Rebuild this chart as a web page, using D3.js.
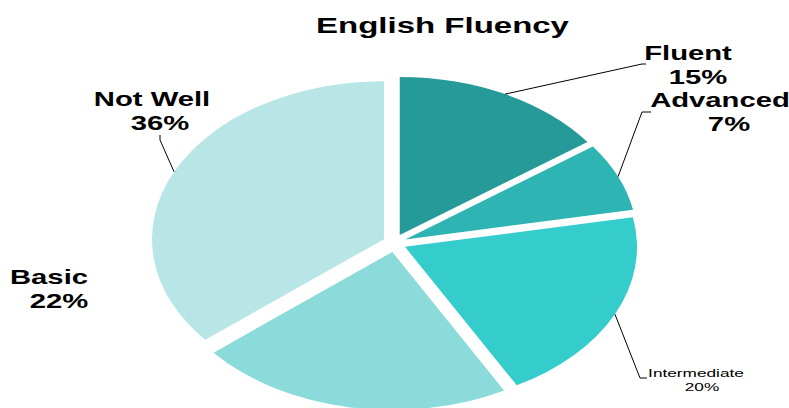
<!DOCTYPE html>
<html>
<head>
<meta charset="utf-8">
<script src="https://cdn.jsdelivr.net/npm/d3@7"></script>
<style>
  html, body { margin: 0; padding: 0; background: #fff; }
  svg { display: block; font-family: "Liberation Sans", Arial, sans-serif; }
</style>
</head>
<body>
<svg id="chart" width="789" height="408"></svg>
<script>
// Survey shares, clockwise from 12 o'clock
const categories = ["Fluent", "Advanced", "Intermediate", "Basic", "Not Well"];
const shares = [15, 7, 20, 22, 36];
const sliceColors = ["#269a99", "#2eb4b3", "#35cccc", "#8adbd9", "#b8e5e5"];

// Label placement (baseline of the name line, percent line, leader path end points)
const labelLayout = [
  { x: 688, y: 60,  dx: 10, size: 19.5, weight: "bold",   leader: [[642, 64], [646, 64]] },
  { x: 720, y: 107, dx: 9,  size: 19.5, weight: "bold",   leader: [[642, 112], [651, 112]] },
  { x: 696, y: 377, dx: 6,  size: 11.5, weight: "normal", leader: [[640, 378], [647, 378]], gap: 14 },
  { x: 49,  y: 284, dx: 10, size: 19.5, weight: "bold",   leader: null },
  { x: 152, y: 106, dx: 8,  size: 19.5, weight: "bold",   leader: [[160, 140], [160, 135]] }
];

const W = 789, H = 408;
const cx = 394.5, cy = 243;      // pie centre
const rx = 232, ry = 158;         // ellipse radii
const explodeX = 11.6, explodeY = 9.1;
const stretch = 1.5;              // horizontal text stretch

const svg = d3.select("#chart");

const pie = d3.pie().sort(null).value(d => d);
const arcs = pie(shares);
const arc = d3.arc().innerRadius(0).outerRadius(rx);
const ky = ry / rx;

const mid = d => (d.startAngle + d.endAngle) / 2;
const sliceOrigin = d => [cx + explodeX * Math.sin(mid(d)), cy - explodeY * Math.cos(mid(d))];

svg.append("g").selectAll("path")
  .data(arcs)
  .join("path")
  .attr("transform", d => {
    const [ox, oy] = sliceOrigin(d);
    return `translate(${ox},${oy}) scale(1,${ky})`;
  })
  .attr("d", arc)
  .attr("fill", (d, i) => sliceColors[i]);

// Leader lines from the slice rim at its mid-angle
const line = d3.line();
svg.append("g").selectAll("path")
  .data(arcs.filter((d, i) => labelLayout[i].leader))
  .join("path")
  .attr("d", d => {
    const [ox, oy] = sliceOrigin(d);
    const a = mid(d);
    const start = [ox + rx * Math.sin(a), oy - ry * Math.cos(a)];
    return line([start, ...labelLayout[d.index].leader]);
  })
  .attr("fill", "none")
  .attr("stroke", "#000")
  .attr("stroke-width", 1);

// Stretched text helper
function stretchedText(parent, x, y, str, size, weight) {
  parent.append("text")
    .attr("transform", `translate(${x},${y}) scale(${stretch},1)`)
    .attr("text-anchor", "middle")
    .attr("font-size", size)
    .attr("font-weight", weight)
    .attr("fill", "#000")
    .text(str);
}

const labels = svg.append("g");
arcs.forEach((d, i) => {
  const L = labelLayout[i];
  const gap = L.gap || 23.5;
  stretchedText(labels, L.x, L.y, categories[i], L.size, L.weight);
  stretchedText(labels, L.x + L.dx, L.y + gap, `${shares[i]}%`, L.size, L.weight);
});

// Title
stretchedText(svg, 442.5, 33, "English Fluency", 22, "bold");
</script>
</body>
</html>
